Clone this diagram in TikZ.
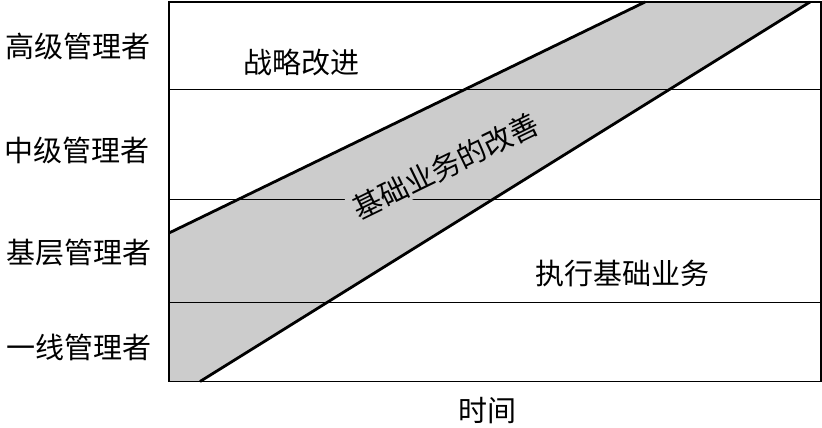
\documentclass[tikz,border=0pt]{standalone}
\usepackage{fontspec}
\setmainfont{Noto Sans CJK SC}
\usepackage{xcolor}
\usepackage{tikz}
\usetikzlibrary{positioning}

\definecolor{bandgray}{gray}{0.8}

\begin{document}
\begin{tikzpicture}[
  x=1bp, y=-1bp,
  font=\fontsize{29bp}{34bp}\selectfont,
  frame/.style={line width=1.3bp},
  divider/.style={line width=0.9bp},
  edge/.style={line width=2.8bp},
  lbl/.style={inner sep=1pt},
  bandlbl/.style={fill=bandgray, inner xsep=4bp, inner ysep=2bp, rotate=26}
]
\useasboundingbox (0,0) rectangle (822,427);

% ── Frame corners ──
\coordinate (tl) at (169,2);
\coordinate (tr) at (821,2);
\coordinate (bl) at (169,381.5);
\coordinate (br) at (821,381.5);

% ── Band edges ──
\coordinate (up0) at (169,233);
\coordinate (up1) at (645,2);
\coordinate (lo0) at (200,381.5);
\coordinate (lo1) at (810,2);

% ── Grey band ──
\fill[bandgray] (up0) -- (up1) -- (lo1) -- (lo0) -- (bl) -- cycle;

% ── Level dividers ──
\foreach \yy/\nm in {89/a, 199/b, 302/c} {
  \coordinate (d\nm l) at (169,\yy);
  \coordinate (d\nm r) at (821,\yy);
  \draw[divider] (d\nm l) -- (d\nm r);
}

% ── Band label (covers the divider) ──
\node[bandlbl] (improve) at (446,166) {基础业务的改善};

% ── Band borders and frame ──
\draw[edge] (up0) -- (up1);
\draw[edge] (lo0) -- (lo1);
\draw[frame] (tl) rectangle (br);

% ── Area labels ──
\node[lbl] (strategy) at (301,62) {战略改进};
\node[lbl] (routine) at (622,274) {执行基础业务};

% ── Level labels ──
\node[lbl] (top) at (78,46) {高级管理者};
\node[lbl] (middle) at (77,150) {中级管理者};
\node[lbl] (base) at (79,253) {基层管理者};
\node[lbl] (front) at (79,347) {一线管理者};

% ── Axis ──
\node[lbl] (time) at (487,411) {时间};

\end{tikzpicture}
\end{document}
